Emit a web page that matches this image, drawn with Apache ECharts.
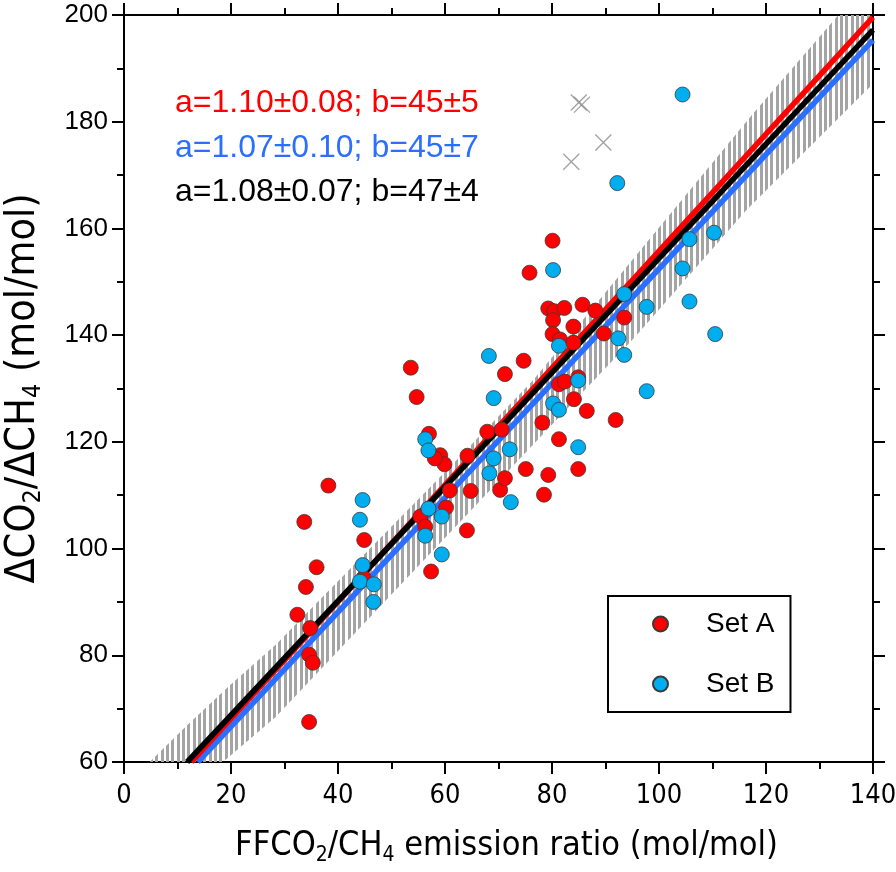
<!DOCTYPE html>
<html><head><meta charset="utf-8">
<script src="https://cdn.jsdelivr.net/npm/echarts@6/dist/echarts.min.js"></script>
<style>html,body{margin:0;padding:0;background:#fff}#c{width:896px;height:872px}</style>
</head><body><div id="c"></div>
<script>
// ---- data ----
const xRange = [0, 140];
const yRange = [60, 200];
const seriesNames = ['Set A', 'Set B'];

const setA = [
 [33.7,105.0],[38.2,111.8],[36.0,96.5],[34.0,92.8],[32.4,87.6],[34.8,85.1],[34.6,80.1],[35.3,78.6],[34.6,67.5],
 [53.6,133.9],[54.7,128.4],[57.0,121.5],[59.1,117.5],[59.9,115.8],[58.1,116.9],[44.9,101.6],[44.8,94.5],
 [64.2,117.4],[64.8,110.8],[64.1,103.4],[60.9,110.9],[60.2,107.7],[55.4,106.0],[56.3,104.1],[57.4,95.7],
 [67.9,121.9],[70.6,122.3],[71.2,132.7],[70.3,111.0],[80.1,157.7],[75.8,151.7],[79.3,145.0],[80.4,144.5],
 [82.3,145.1],[85.7,145.7],[88.1,144.6],[80.2,142.8],[84.0,141.6],[80.1,140.2],[81.5,139.2],[84.0,138.6],
 [93.5,143.3],[89.7,140.3],[74.7,135.2],[81.3,130.8],[82.4,131.3],[84.9,132.1],[84.1,128.0],[86.5,125.8],
 [91.9,124.1],[78.2,123.6],[81.3,120.5],[84.9,114.9],[79.3,113.8],[75.1,114.9],[71.2,113.2],[78.5,110.1]
];
const setB = [
 [44.6,109.1],[44.1,105.4],[44.6,96.9],[44.1,93.8],[46.7,93.3],[46.6,90.0],[56.3,120.5],[56.9,118.4],
 [59.4,106.0],[56.9,107.5],[56.3,102.4],[59.4,98.9],[68.2,136.1],[69.1,128.2],[69.1,116.9],[68.3,114.1],
 [80.2,152.2],[81.3,138.0],[93.5,147.7],[97.7,145.3],[92.4,139.4],[93.5,136.3],[104.4,152.5],[105.7,146.3],
 [110.5,140.2],[97.7,129.5],[84.9,131.5],[80.2,127.2],[81.3,126.0],[84.9,119.0],[72.1,118.6],[72.3,108.7],
 [92.2,168.5],[104.4,185.1],[105.7,158.0],[110.3,159.2]
];
const excludedPts = [[85.0,183.6],[85.6,183.2],[89.6,176.1],[83.6,172.5]];

// fitted lines (end points)
const fitLineA = [[12.6,60],[140,199.6]];
const fitLineB = [[13.8,60],[140,195.3]];
const fitLineAll = [[11.8,60],[140,197.2]];
const fitLabels = ['a=1.10±0.08; b=45±5', 'a=1.07±0.10; b=45±7', 'a=1.08±0.07; b=47±4'];

// hatched band edges
const bandUpper = [[4.8,60],[11.7,66.8],[19.8,74.4],[28.5,82.1],[61.6,116.0],[76.5,131.6],[117.4,181.3],[131.8,198.0],[139.5,207.0]];
const bandLower = [[18.5,60],[28.3,68.4],[95.8,140.0],[116.4,163.5],[139.5,186.6]];

// ---- styles ----
const RED = '#ff0000', BLUE_DOT = '#00aeef', BLUE_LINE = '#2a6fff';
const NARROW = '"Liberation Sans Narrow","DejaVu Sans Condensed","Liberation Sans",Arial,sans-serif';
const SANS = '"Liberation Sans",Arial,sans-serif';

const pc = document.createElement('canvas');
pc.width = 107; pc.height = 8;
const g = pc.getContext('2d');
g.fillStyle = '#a4a4a4';
for (let i = 0; i < 20; i++) g.fillRect(Math.round(i * 5.35), 0, 3, 8);

const chart = echarts.init(document.getElementById('c'), null, {renderer: 'canvas'});

const axisCommon = {
  type: 'value',
  axisLine: {show: true, onZero: false, lineStyle: {color: '#000', width: 2}},
  axisTick: {show: true, inside: false, length: 12, lineStyle: {color: '#000', width: 2}},
  minorTick: {show: true, splitNumber: 2, length: 7, lineStyle: {color: '#000', width: 2}},
  splitLine: {show: false},
  minorSplitLine: {show: false}
};

const subRich = (fs, pad) => ({
  sub: {fontSize: Math.round(fs * 0.62), fontFamily: NARROW, color: '#000', padding: [pad, 0, 0, 0], lineHeight: Math.round(fs * 0.62)}
});

const option = {
  animation: false,
  backgroundColor: '#fff',
  grid: {left: 124, right: 23, top: 15, bottom: 110, containLabel: false, outerBoundsMode: 'none'},
  xAxis: [
    Object.assign({}, axisCommon, {
      min: xRange[0], max: xRange[1], interval: 20, position: 'bottom',
      axisLabel: {show: true, margin: 20, fontFamily: NARROW, fontSize: 27, color: '#000'},
      name: 'FFCO{sub|2}/CH{sub|4} emission ratio (mol/mol)',
      nameLocation: 'middle', nameGap: 64,
      nameTextStyle: {fontFamily: NARROW, fontSize: 34, color: '#000', lineHeight: 40, padding: [0, 0, 0, 16], rich: subRich(34, 19)}
    }),
    Object.assign({}, axisCommon, {
      min: xRange[0], max: xRange[1], interval: 20, position: 'top',
      axisLabel: {show: false}
    })
  ],
  yAxis: [
    Object.assign({}, axisCommon, {
      min: yRange[0], max: yRange[1], interval: 20, position: 'left',
      axisLabel: {show: true, margin: 16, fontFamily: SANS, fontSize: 26, color: '#000'},
      name: 'ΔCO{sub|2}/ΔCH{sub|4} (mol/mol)',
      nameLocation: 'middle', nameGap: 78, nameRotate: 90,
      nameTextStyle: {fontFamily: NARROW, fontSize: 41, color: '#000', lineHeight: 46, rich: subRich(41, 21)}
    }),
    Object.assign({}, axisCommon, {
      min: yRange[0], max: yRange[1], interval: 20, position: 'right',
      axisLabel: {show: false}
    })
  ],
  legend: {
    data: seriesNames,
    orient: 'vertical',
    left: 608, top: 596,
    padding: [13, 16, 13, 44],
    itemGap: 30,
    itemWidth: 15, itemHeight: 15,
    borderColor: '#000', borderWidth: 2, borderRadius: 0,
    backgroundColor: '#fff',
    textStyle: {fontFamily: SANS, fontSize: 28, color: '#000', lineHeight: 30, padding: [0, 0, 0, 33]}
  },
  graphic: fitLabels.map((t, i) => ({
    type: 'text', left: 175, top: [105, 150, 194][i] - 18, z: 100,
    style: {text: t, fontFamily: SANS, fontSize: 32, fill: [RED, BLUE_LINE, '#000'][i]}
  })),
  series: [
    {
      type: 'custom', name: 'band', silent: true, z: 1,
      xAxisIndex: 0, yAxisIndex: 0,
      data: [[0, 60]],
      renderItem: function (params, api) {
        const pts = [];
        bandUpper.forEach(p => pts.push(api.coord(p)));
        for (let i = bandLower.length - 1; i >= 0; i--) pts.push(api.coord(bandLower[i]));
        const cs = params.coordSys;
        return {
          type: 'polygon',
          shape: {points: pts},
          style: {fill: {image: pc, repeat: 'repeat'}, stroke: null},
          clipPath: {type: 'rect', shape: {x: cs.x, y: cs.y, width: cs.width, height: cs.height}}
        };
      }
    },
    {type: 'line', name: 'fitB', data: fitLineB, showSymbol: false, symbol: 'none', z: 2, clip: true,
     lineStyle: {color: BLUE_LINE, width: 5.5}, silent: true},
    {type: 'line', name: 'fitA', data: fitLineA, showSymbol: false, symbol: 'none', z: 3, clip: true,
     lineStyle: {color: RED, width: 5.5}, silent: true},
    {type: 'line', name: 'fitAll', data: fitLineAll, showSymbol: false, symbol: 'none', z: 4, clip: true,
     lineStyle: {color: '#000', width: 5.5}, silent: true},
    {type: 'scatter', name: 'excluded', data: excludedPts, z: 5, symbol: 'path://M0,0L10,10M10,0L0,10', symbolSize: 16,
     itemStyle: {color: 'rgba(0,0,0,0)', borderColor: '#8a8a8a', borderWidth: 1.3}},
    {type: 'scatter', name: 'Set A', data: setA, z: 6, symbol: 'circle', symbolSize: 15,
     itemStyle: {color: RED, borderColor: '#3a3a3a', borderWidth: 0.8, opacity: 1}},
    {type: 'scatter', name: 'Set B', data: setB, z: 7, symbol: 'circle', symbolSize: 15,
     itemStyle: {color: BLUE_DOT, borderColor: '#3a3a3a', borderWidth: 0.8, opacity: 1}}
  ]
};
chart.setOption(option);
</script></body></html>
